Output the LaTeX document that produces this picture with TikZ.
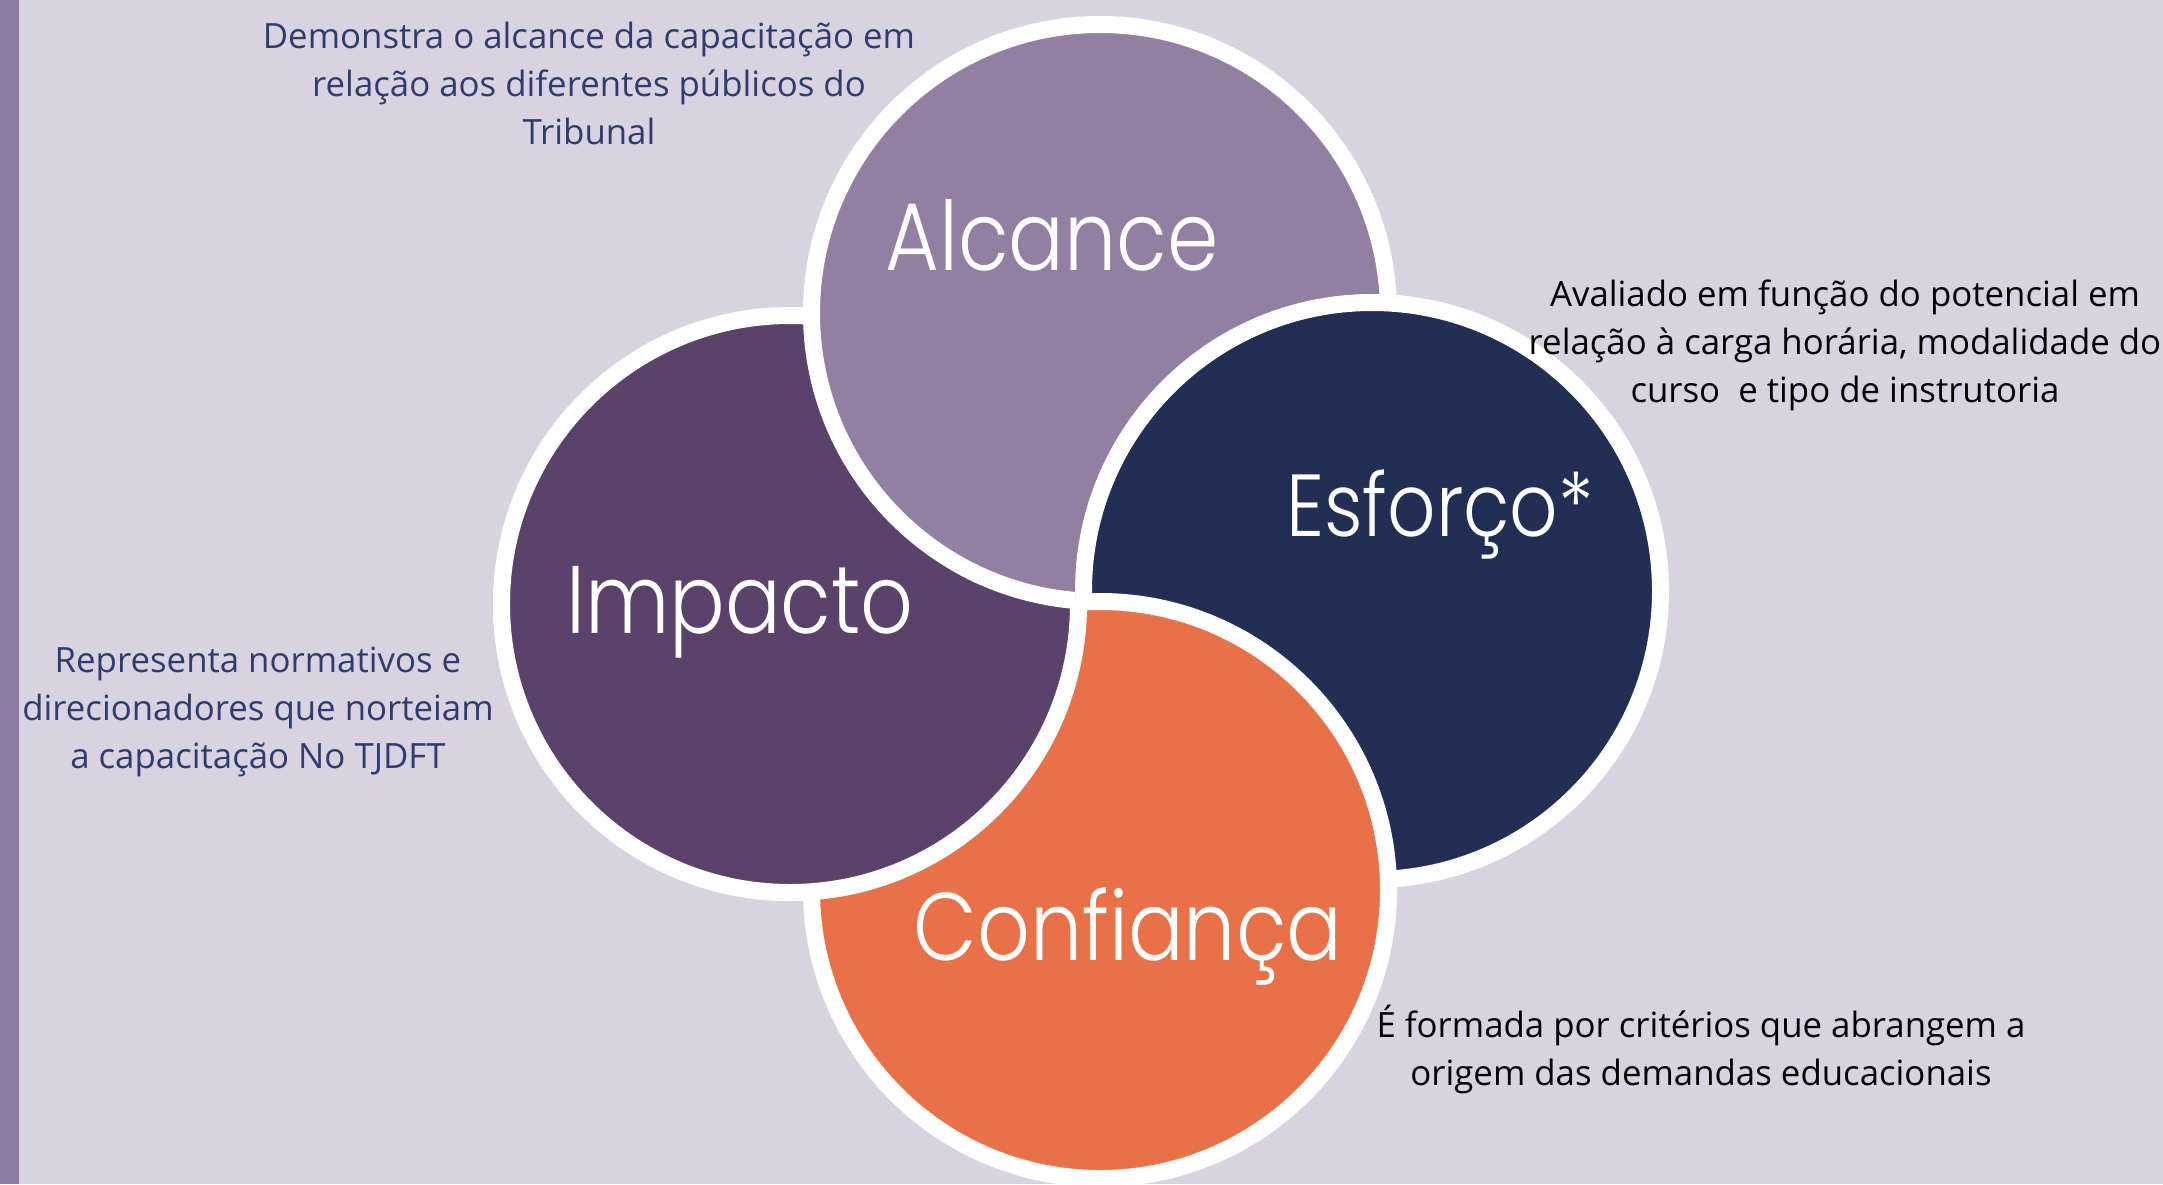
\documentclass[tikz,border=0pt]{standalone}
\usepackage{fontspec}
\setmainfont{Open Sans}
\newfontfamily\titlefont{Poppins Light}[FakeStretch=0.86]

\definecolor{bgcol}{HTML}{D9D2E0}
\definecolor{stripecol}{HTML}{8E7BA0}
\definecolor{alccol}{HTML}{927FA1}
\definecolor{impcol}{HTML}{5B426B}
\definecolor{esfcol}{HTML}{222E53}
\definecolor{confcol}{HTML}{E97148}
\definecolor{notecol}{HTML}{2E3C6E}

\begin{document}
\begin{tikzpicture}[
    x=0.5pt, y=-0.5pt,
    petal/.style={circle, draw=white, line width=8.5pt, minimum size=288.5pt, inner sep=0pt},
    title/.style={text=white, inner sep=0pt, anchor=base, font=\titlefont\fontsize{48}{52}\selectfont},
    note/.style={align=center, inner sep=0pt, anchor=base, font=\fontsize{17.4}{24}\selectfont}
  ]
    % background and left stripe
    \fill[bgcol] (0,0) rectangle (2163,1184);
    \useasboundingbox (0,0) rectangle (2163,1184);
    \clip (0,0) rectangle (2163,1184);
    \fill[stripecol] (0,0) rectangle (19,1184);
    % the four circles, each one over the next
    \node[petal, fill=impcol]  (imp)  at (790,604) {};
    \node[petal, fill=alccol]  (alc)  at (1100,313) {};
    \node[petal, fill=esfcol]  (esf)  at (1372,591) {};
    \node[petal, fill=confcol] (conf) at (1100,890) {};
    % lower part of Impacto lies over Confianca
    \begin{scope}
      \clip (0,585) rectangle (2163,1184);
      \node[petal, fill=impcol] (impfront) at (imp.center) {};
    \end{scope}
    % but Alcance stays over Impacto
    \begin{scope}
      \clip (960,540) rectangle (1075,640);
      \node[petal, fill=alccol] (alcfront) at (alc.center) {};
    \end{scope}
    % titles
    \node[title] (alctext)  at (1052,270) {Alcance};
    \node[title] (imptext)  at (740,633) {Impacto};
    \node[title, font=\titlefont\fontsize{44}{48}\selectfont] (esftext) at (1440,536) {Esforço*};
    \node[title] (conftext) at (1128,960) {Confiança};
    % descriptions (anchored at the last line)
    \node[note, text=notecol] (alcnote) at (589,144)
      {Demonstra o alcance da capacitação em\\relação aos diferentes públicos do\\Tribunal};
    \node[note, text=notecol] (impnote) at (258,768)
      {Representa normativos e\\direcionadores que norteiam\\a capacitação No TJDFT};
    \node[note, text=black] (esfnote) at (1845,402)
      {Avaliado em função do potencial em\\relação à carga horária, modalidade do\\curso\ \ e tipo de instrutoria};
    \node[note, text=black] (confnote) at (1701,1085)
      {É formada por critérios que abrangem a\\origem das demandas educacionais};
  \end{tikzpicture}
\end{document}
